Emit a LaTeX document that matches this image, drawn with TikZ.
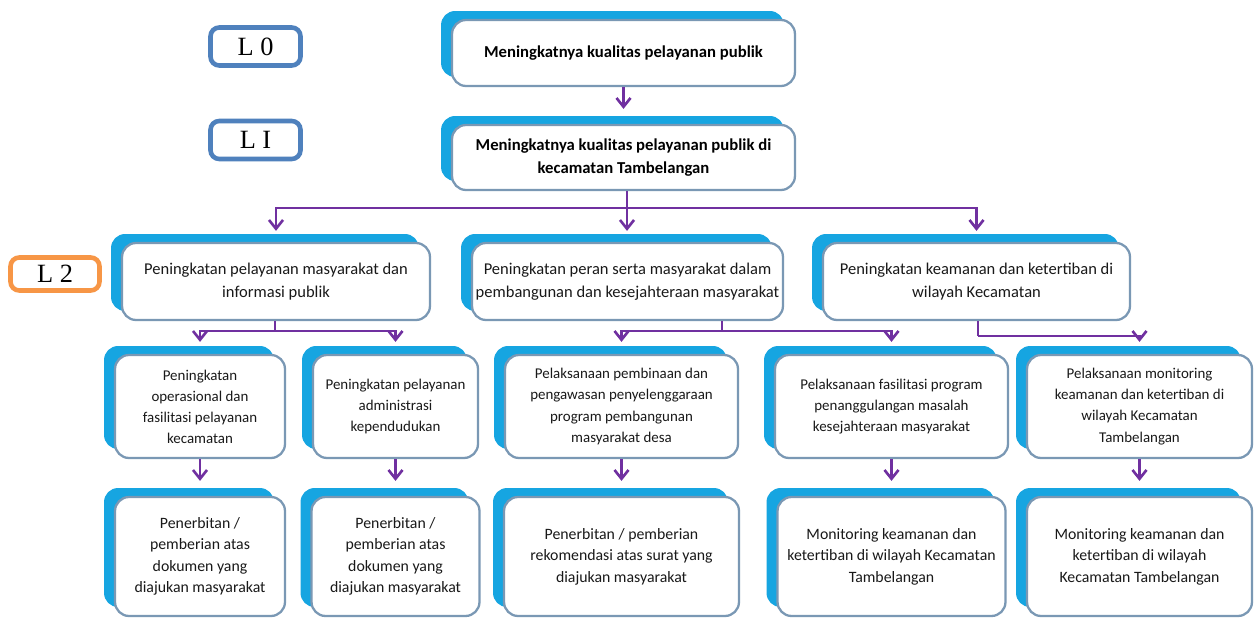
\documentclass[tikz,border=0pt]{standalone}
\usepackage{fontspec}
\newfontfamily\calfont{Carlito}
\newfontfamily\tagfont{Liberation Serif}
\usetikzlibrary{arrows.meta, shadows}
\definecolor{BoxCyan}{RGB}{22,165,225}
\definecolor{BoxEdge}{RGB}{122,152,180}
\definecolor{LinkPurple}{RGB}{112,48,160}
\definecolor{TagBlue}{RGB}{79,129,189}
\definecolor{TagOrange}{RGB}{247,150,70}

\begin{document}
\begin{tikzpicture}[x=0.02cm, y=-0.02cm,
          gbox/.style={rectangle, rounded corners=8pt, draw=BoxEdge, line width=1.3pt,
                       fill=white, align=center, inner sep=2pt, text=black!90,
                       font=\calfont\fontsize{8.5}{12}\selectfont,
                       drop shadow={shadow xshift=-0.22cm, shadow yshift=0.18cm,
                                    fill=BoxCyan, opacity=1}},
          pbox/.style={gbox, font=\calfont\fontsize{9.4}{13}\selectfont},
          obox/.style={gbox, font=\calfont\fontsize{9}{12.2}\selectfont},
          bgbox/.style={gbox, text=black, font=\calfont\bfseries\fontsize{9.5}{13.5}\selectfont},
          tag/.style={rectangle, rounded corners=5pt, line width=2.6pt, fill=white,
                      minimum width=1.8cm, font=\tagfont\fontsize{15}{18}\selectfont},
          plink/.style={draw=LinkPurple, line width=1.5pt},
          parr/.style={plink, -{Straight Barb[length=5pt, width=8pt]}, shorten >=0.3cm}
        ]
        \path[use as bounding box, fill=white] (0,0) rectangle (1257,618);

        % level tags
        \node[tag, draw=TagBlue, minimum height=0.76cm] (t0) at (255.5,46.5) {L 0};
        \node[tag, draw=TagBlue, minimum height=0.76cm] (t1) at (255.5,140) {L I};
        \node[tag, draw=TagOrange, minimum width=1.78cm, minimum height=0.66cm] (t2) at (55,274) {L 2};

        % goals
        \node[bgbox, minimum width=6.86cm, minimum height=1.32cm] (goal) at (623.5,53)
              {Meningkatnya kualitas pelayanan publik};
        \node[bgbox, minimum width=6.86cm, minimum height=1.3cm] (l1goal) at (623.5,157.5)
              {Meningkatnya kualitas pelayanan publik di\\kecamatan Tambelangan};

        % programs
        \node[pbox, minimum width=6.16cm, minimum height=1.54cm] (progA) at (276,281.5)
              {Peningkatan pelayanan masyarakat dan\\informasi publik};
        \node[pbox, minimum width=6.22cm, minimum height=1.54cm] (progB) at (627.5,281.5)
              {Peningkatan peran serta masyarakat dalam\\pembangunan dan kesejahteraan masyarakat};
        \node[pbox, minimum width=6.14cm, minimum height=1.54cm] (progC) at (976.5,281.5)
              {Peningkatan keamanan dan ketertiban di\\wilayah Kecamatan};

        % activities
        \node[gbox, minimum width=3.4cm, minimum height=2.06cm] (keg1) at (200,406.5)
              {Peningkatan\\operasional dan\\fasilitasi pelayanan\\kecamatan};
        \node[gbox, minimum width=3.3cm, minimum height=2.06cm] (keg2) at (395.5,406.5)
              {Peningkatan pelayanan\\administrasi\\kependudukan};
        \node[gbox, minimum width=4.66cm, minimum height=2.06cm] (keg3) at (621.5,406.5)
              {Pelaksanaan pembinaan dan\\pengawasan penyelenggaraan\\program pembangunan\\masyarakat desa};
        \node[gbox, minimum width=4.66cm, minimum height=2.06cm] (keg4) at (891.5,406.5)
              {Pelaksanaan fasilitasi program\\penanggulangan masalah\\kesejahteraan masyarakat};
        \node[gbox, minimum width=4.5cm, minimum height=2.06cm] (keg5) at (1139.5,406.5)
              {Pelaksanaan monitoring\\keamanan dan ketertiban di\\wilayah Kecamatan\\Tambelangan};

        % outputs
        \node[obox, minimum width=3.4cm, minimum height=2.38cm] (out1) at (200,556.5)
              {Penerbitan /\\pemberian atas\\dokumen yang\\diajukan masyarakat};
        \node[obox, minimum width=3.36cm, minimum height=2.38cm] (out2) at (395.5,556.5)
              {Penerbitan /\\pemberian atas\\dokumen yang\\diajukan masyarakat};
        \node[obox, minimum width=4.7cm, minimum height=2.38cm] (out3) at (621.5,556.5)
              {Penerbitan / pemberian\\rekomendasi atas surat yang\\diajukan masyarakat};
        \node[obox, minimum width=4.56cm, minimum height=2.38cm] (out4) at (891.5,556.5)
              {Monitoring keamanan dan\\ketertiban di wilayah Kecamatan\\Tambelangan};
        \node[obox, minimum width=4.5cm, minimum height=2.38cm] (out5) at (1139.5,556.5)
              {Monitoring keamanan dan\\ketertiban di wilayah\\Kecamatan Tambelangan};

        % connectors
        \draw[parr] (goal) -- (l1goal);

        \coordinate (j1) at (627,208);
        \draw[plink] (j1 |- l1goal.south) -- (j1);
        \draw[parr, shorten >=0.22cm] (j1) -| (progA);
        \draw[parr, shorten >=0.22cm] (j1) -- (j1 |- progB.north);
        \draw[parr, shorten >=0.22cm] (j1) -| (progC);

        \coordinate (j2) at (275,331);
        \draw[plink] (j2 |- progA.south) -- (j2);
        \draw[parr, shorten >=0.24cm] (j2) -| (keg1);
        \draw[parr, shorten >=0.24cm] (j2) -| (keg2);

        \coordinate (j3) at (722,331);
        \draw[plink] (j3 |- progB.south) -- (j3);
        \draw[parr, shorten >=0.24cm] (j3) -| (keg3);
        \draw[parr, shorten >=0.24cm] (j3) -| (keg4);

        \coordinate (j4) at (978,336);
        \draw[plink] (j4 |- progC.south) -- (j4);
        \draw[parr, shorten >=0.24cm] (j4) -| (keg5);

        \foreach \i in {1,...,5} {
          \draw[parr] (keg\i) -- (out\i);
        }
\end{tikzpicture}
\end{document}
